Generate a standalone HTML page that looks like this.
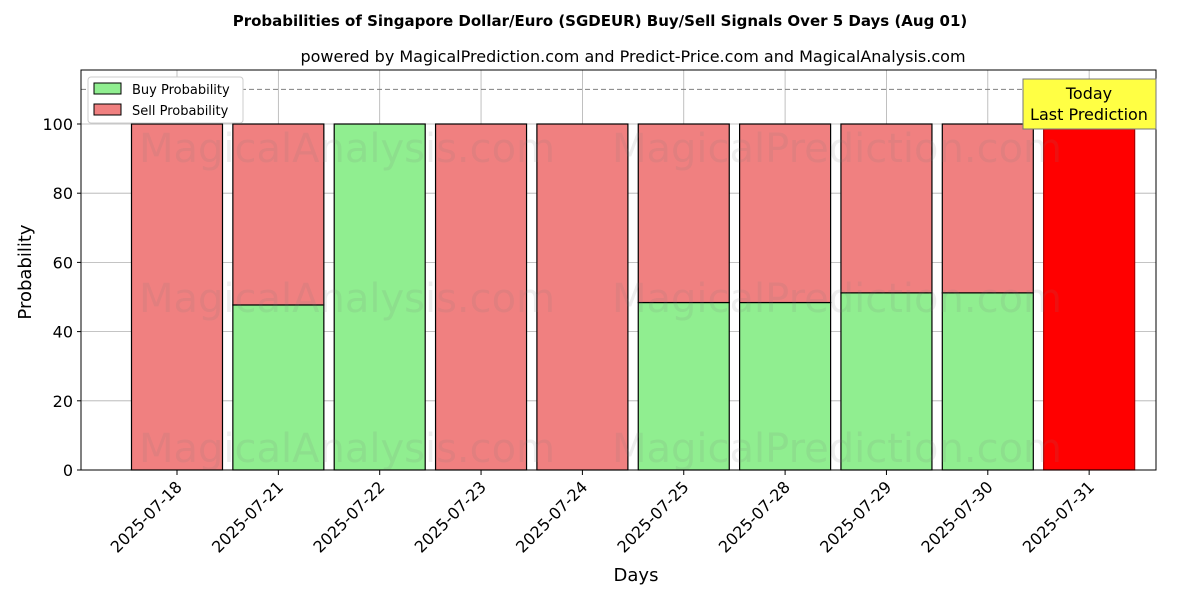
<!DOCTYPE html>
<html><head><meta charset="utf-8"><style>
body{margin:0;background:#fff;}
svg{display:block;font-family:"DejaVu Sans","Liberation Sans",sans-serif;}
</style></head><body>
<svg id="chart" width="1200" height="600" viewBox="0 0 1200 600">
<text x="600" y="26" text-anchor="middle" font-size="15" font-weight="bold">Probabilities of Singapore Dollar/Euro (SGDEUR) Buy/Sell Signals Over 5 Days (Aug 01)</text>
<text x="633" y="62" text-anchor="middle" font-size="16">powered by MagicalPrediction.com and Predict-Price.com and MagicalAnalysis.com</text>
<g id="grid"></g>
<g id="bars"></g>
<g id="wm" font-size="40" fill="rgba(120,120,120,0.13)">
<text x="347" y="162" text-anchor="middle">MagicalAnalysis.com</text>
<text x="837" y="162" text-anchor="middle">MagicalPrediction.com</text>
<text x="347" y="312" text-anchor="middle">MagicalAnalysis.com</text>
<text x="837" y="312" text-anchor="middle">MagicalPrediction.com</text>
<text x="347" y="462" text-anchor="middle">MagicalAnalysis.com</text>
<text x="837" y="462" text-anchor="middle">MagicalPrediction.com</text>
</g>
<line x1="81" x2="1156" y1="89.4" y2="89.4" stroke="#808080" stroke-dasharray="5,3"/>
<g id="axes"></g>
<rect x="1023" y="79" width="133" height="50" fill="#ffff44" stroke="#777"/>
<text x="1089" y="99" text-anchor="middle" font-size="16">Today</text>
<text x="1089" y="120" text-anchor="middle" font-size="16">Last Prediction</text>
<g>
<rect x="88" y="77" width="155" height="46" fill="#fff" stroke="#ccc" rx="3"/>
<rect x="94" y="83" width="27" height="11" fill="#90ee90" stroke="#000"/>
<text x="132" y="94" font-size="13">Buy Probability</text>
<rect x="94" y="104" width="27" height="11" fill="#f08080" stroke="#000"/>
<text x="132" y="115" font-size="13">Sell Probability</text>
</g>
<text x="636" y="581" text-anchor="middle" font-size="18">Days</text>
<text transform="translate(31,272) rotate(-90)" text-anchor="middle" font-size="18">Probability</text>
</svg>
<script>
const categories=["2025-07-18","2025-07-21","2025-07-22","2025-07-23","2025-07-24","2025-07-25","2025-07-28","2025-07-29","2025-07-30","2025-07-31"];
const buyValues=[0,47.7,100,0,0,48.4,48.4,51.2,51.2,0];
const sellValues=[100,52.3,0,100,100,51.6,51.6,48.8,48.8,100];
const yTicks=[0,20,40,60,80,100];
const NS="http://www.w3.org/2000/svg";
const plotLeft=81,plotRight=1156,plotTop=70,plotBottom=470;
const yScale=v=>470-v*3.46;
const xScale=i=>177+i*101.35;
const bw=91;
function mk(tag,attrs,parent){const e=document.createElementNS(NS,tag);for(const k in attrs)e.setAttribute(k,attrs[k]);parent.appendChild(e);return e;}
const gridG=document.getElementById('grid'),barsG=document.getElementById('bars'),axesG=document.getElementById('axes');
yTicks.forEach(t=>{
  const l=mk('line',{x1:plotLeft,x2:plotRight,y1:yScale(t),y2:yScale(t),stroke:'#b0b0b0','stroke-width':0.8},gridG);
  
  
  mk('line',{x1:plotLeft-4,x2:plotLeft,y1:yScale(t),y2:yScale(t),stroke:'#000'},axesG);
  const tx=mk('text',{x:plotLeft-8,y:yScale(t)+6,'text-anchor':'end','font-size':16},axesG);
  tx.textContent=t;
  
  
});
categories.forEach((c,i)=>{
  const l=mk('line',{x1:xScale(i),x2:xScale(i),y1:plotTop,y2:plotBottom,stroke:'#b0b0b0','stroke-width':0.8},gridG);
  
  
  const last=i===categories.length-1;
  const b=mk('rect',{x:xScale(i)-bw/2,y:yScale(buyValues[i]),width:bw,height:yScale(0)-yScale(buyValues[i]),fill:'#90ee90',stroke:'#000','stroke-width':1.2},barsG);
  
  
  const s=mk('rect',{x:xScale(i)-bw/2,y:yScale(buyValues[i]+sellValues[i]),width:bw,height:yScale(buyValues[i])-yScale(buyValues[i]+sellValues[i]),fill:last?'#ff0000':'#f08080',stroke:last?'#a00':'#000','stroke-width':1.2},barsG);
  
  
  mk('line',{x1:xScale(i),x2:xScale(i),y1:plotBottom,y2:plotBottom+5,stroke:'#000'},axesG);
  const tx=mk('text',{x:0,y:0,'text-anchor':'end','font-size':16,transform:`translate(${xScale(i)+6},${plotBottom+18}) rotate(-45)`},axesG);
  tx.textContent=c;
  
  
});
const f=mk('rect',{x:plotLeft,y:plotTop,width:plotRight-plotLeft,height:plotBottom-plotTop,fill:'none',stroke:'#000','stroke-width':1},axesG);


</script>
</body></html>
